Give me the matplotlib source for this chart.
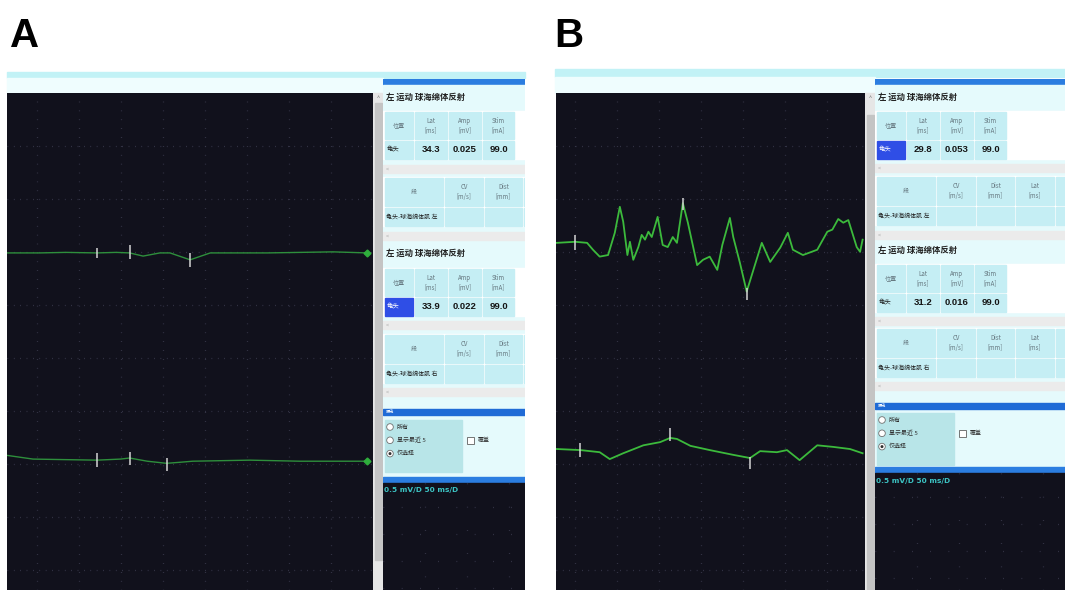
import numpy as np
import matplotlib.pyplot as plt
from matplotlib.patches import Rectangle, Circle

plt.rcParams['font.family'] = ['Noto Sans CJK SC', 'DejaVu Sans']

# ---- values ----
# traces: time in ms, amplitude in uV relative to the channel baseline
a1_t = [0, 39, 70, 107, 130, 146, 162, 182, 194, 218, 242, 310, 388, 429]
a1_v = [0, 0, 1, 0, 1, 0, -6, 0, 0, -13, 0, 0, 2, 0]
a2_t = [0, 31, 107, 135, 146, 167, 190, 206, 221, 289, 349, 429]
a2_v = [11, 4, 2, 4, 6, 0, -4, -2, 0, 2, 0, 0]
b1_t = [1, 23, 37, 44, 52, 62, 70, 76, 80, 85, 88, 92, 98, 102, 106, 110, 114, 121, 127, 133,
        139, 144, 151, 157, 168, 175, 183, 192, 198, 207, 211, 219, 227, 235, 245, 255, 267, 276,
        282, 294, 311, 323, 329, 336, 342, 348, 358, 362, 365]
b1_v = [0, 2, 0, -13, -26, -23, 19, 68, 40, -23, 2, -32, -8, 15, 6, 21, 11, 49, -4, -8,
        11, 0, 75, 38, -42, -32, -26, -51, -4, 47, 11, -38, -92, -51, 0, -36, -9, 19,
        -13, -23, -13, 21, 25, 45, 38, 43, -8, -17, 6]
b2_t = [1, 29, 52, 64, 80, 104, 124, 136, 144, 160, 183, 211, 231, 243, 263, 275, 290, 311, 330, 350, 365]
b2_v = [2, 0, -4, -17, -6, 9, 15, 23, 21, 8, 0, -9, -15, -2, -4, 0, -19, 9, 6, 2, -6]

# cursor marks on each trace: time, low and high end (uV from baseline)
a1_mk_t, a1_mk_lo, a1_mk_hi = [107, 146, 218], [-9, -11, -26], [9, 15, 0]
a2_mk_t, a2_mk_lo, a2_mk_hi = [107, 146, 190], [-11, -8, -19], [15, 17, 6]
b1_mk_t, b1_mk_lo, b1_mk_hi = [23, 151, 227], [-13, 62, -108], [15, 85, -85]
b2_mk_t, b2_mk_lo, b2_mk_hi = [29, 136, 231], [-13, 17, -36], [13, 42, -13]

a_base = [636, 243]
b_base = [655, 264]

# side tables
title = '左 运动 球海绵体反射'
site = '龟头'
segments = ['龟头-球海绵体肌 左', '龟头-球海绵体肌 右']
head1 = ['位置', 'Lat\n[ms]', 'Amp\n[mV]', 'Stim\n[mA]']
head2 = ['段', 'CV\n[m/s]', 'Dist\n[mm]', 'Lat\n[ms]', 'Amp\n[mV]']
a_lat, a_amp, a_stim = ['34.3', '33.9'], ['0.025', '0.022'], ['99.0', '99.0']
b_lat, b_amp, b_stim = ['29.8', '31.2'], ['0.053', '0.016'], ['99.0', '99.0']
a_hl = [False, True]
b_hl = [True, False]
radio_items = ['所有', '显示最近 5', '仅选择']
scale_text = '0.5 mV/D 50 ms/D'

W, H = 1065, 590
MS_PER_PX = 50 / 42
UV_PER_PX = 100 / 53
DARK = '#11111c'
PANEL = '#e5fafc'
CELL = '#c5eef4'
BLUE = '#2b7de0'
GRIDC = '#3c3c50'

fig = plt.figure(figsize=(W / 100, H / 100), dpi=100)
bg = fig.add_axes([0, 0, 1, 1])
bg.set_xlim(0, W)
bg.set_ylim(H, 0)
bg.axis('off')


def px_axes(x, y, w, h):
    return fig.add_axes([x / W, (H - y - h) / H, w / W, h / H])


def signal_axes(x, w, grid_x0):
    ax = px_axes(x, 93, w, H - 93)
    ax.set_facecolor(DARK)
    ax.set_xlim(0, w * MS_PER_PX)
    ax.set_ylim(0, (H - 93) * UV_PER_PX)
    ax.set_xticks(np.arange(grid_x0, w * MS_PER_PX, 50))
    ax.set_yticks(np.arange(38, (H - 93) * UV_PER_PX, 100))
    ax.grid(axis='x', color=GRIDC, lw=0.9, ls=(0, (0.6, 6.5)))
    ax.grid(axis='y', color=GRIDC, lw=0.9, ls=(0, (0.6, 4.5)))
    ax.tick_params(length=0, labelbottom=False, labelleft=False)
    for s in ax.spines.values():
        s.set_visible(False)
    return ax


def draw_trace(ax, t, v, base, mk_t, mk_lo, mk_hi, color, lw, end_mark=False):
    y = base + np.array(v)
    ax.plot(t, y, color=color, lw=lw, solid_joinstyle='round')
    ax.vlines(mk_t, base + np.array(mk_lo), base + np.array(mk_hi), color='#d4d4d4', lw=1.1)
    if end_mark:
        ax.plot(t[-1], y[-1], 'D', ms=3.5, color='#2fae3c')


def side_panel(left, w, blocks, hist_y, radio_y, dark_y, lat, amp, stim, hl, scale_y):
    x0 = left + 2
    ax = px_axes(left, 79, w, H - 79)
    ax.set_xlim(left, left + w)
    ax.set_ylim(H, 79)
    ax.axis('off')
    ax.add_patch(Rectangle((left, 79), w, 6, color=BLUE))
    ax.add_patch(Rectangle((left, 85), w, dark_y - 85, color=PANEL))
    cols1 = [(0, 28), (30, 32), (64, 32), (98, 31)]
    cols2 = [(0, 58), (60, 38), (100, 37), (139, 38), (179, 38)]
    for k, (ty, t1, s1, t2, s2) in enumerate(blocks):
        ax.text(x0 + 1, ty, title, fontsize=6.0, fontweight='bold', color='#202020',
                va='center', clip_on=True)
        # measurement table
        ax.add_patch(Rectangle((left, t1 - 1), w, 48, color='white'))
        vals = [site, lat[k], amp[k], stim[k]]
        for i, (cx, cw) in enumerate(cols1):
            ax.add_patch(Rectangle((x0 + cx, t1), cw, 27, color=CELL))
            blue = (i == 0 and hl[k])
            ax.add_patch(Rectangle((x0 + cx, t1 + 28.5), cw, 18,
                                   color='#2f4ee6' if blue else CELL))
            ax.text(x0 + cx + cw / 2, t1 + 13.5, head1[i], fontsize=4.4, color='#667880',
                    ha='center', va='center', linespacing=1.25, clip_on=True)
            if i == 0:
                ax.text(x0 + cx + 2, t1 + 37.5, vals[i], fontsize=4.6,
                        color='white' if blue else '#202020', va='center', clip_on=True)
            else:
                ax.text(x0 + cx + cw / 2, t1 + 37.5, vals[i], fontsize=6.8, fontweight='bold',
                        family=['Liberation Sans'], color='#151515', ha='center', va='center',
                        clip_on=True)
        for sy in (s1, s2):
            ax.add_patch(Rectangle((left, sy), w, 8, color='#ebebeb'))
            ax.text(x0 + 1, sy + 4, '<', fontsize=3.8, color='#a8a8a8', va='center', clip_on=True)
        # segment table
        ax.add_patch(Rectangle((left, t2 - 1), w, 49, color='white'))
        for i, (cx, cw) in enumerate(cols2):
            ax.add_patch(Rectangle((x0 + cx, t2), cw, 28, color=CELL))
            ax.add_patch(Rectangle((x0 + cx, t2 + 29.5), cw, 18, color=CELL))
            ax.text(x0 + cx + cw / 2, t2 + 14, head2[i], fontsize=4.4, color='#667880',
                    ha='center', va='center', linespacing=1.25, clip_on=True)
        ax.text(x0 + 1, t2 + 38.5, segments[k], fontsize=4.3, color='#202020',
                va='center', clip_on=True)
    # history box
    ax.add_patch(Rectangle((left, hist_y), w, 6, color='#1f6bd6'))
    ax.text(x0 + 1, hist_y + 3, '历史', fontsize=3.0, color='white', va='center', clip_on=True)
    ax.add_patch(Rectangle((x0, radio_y), 77, 52, color='#b8e5e8'))
    for i, item in enumerate(radio_items):
        ry = radio_y + 7 + 13.3 * i
        ax.add_patch(Circle((x0 + 5, ry), 3.3, fc='white', ec='#707070', lw=0.6))
        if i == 2:
            ax.add_patch(Circle((x0 + 5, ry), 1.5, fc='#303030', ec='none'))
        ax.text(x0 + 12, ry, item, fontsize=4.3, color='#303030', va='center', clip_on=True)
    cy = radio_y + 20
    ax.add_patch(Rectangle((x0 + 82, cy - 3.5), 7, 7, fc='white', ec='#606060', lw=0.6))
    ax.text(x0 + 93, cy, '覆盖', fontsize=4.3, color='#303030', va='center', clip_on=True)
    # small scope at the bottom
    ax.add_patch(Rectangle((left, dark_y - 6), w, 6, color=BLUE))
    ax.add_patch(Rectangle((left, dark_y), w, H - dark_y, color=DARK))
    ax.vlines(np.arange(x0 + 40, left + w, 42), dark_y, H, color=GRIDC, lw=0.9,
              linestyles=[(0, (0.6, 18))])
    ax.hlines(np.arange(dark_y + 24, H, 27), left, left + w, color=GRIDC, lw=0.9,
              linestyles=[(0, (0.6, 14))])
    ax.text(x0 - 1, scale_y, scale_text, fontsize=5.3, fontweight='bold',
            family=['DejaVu Sans'], color='#3cc4c4', va='center', clip_on=True)


# ---- window chrome ----
bg.add_patch(Rectangle((7, 72), 518, 6, color='#c2f2f6'))
bg.add_patch(Rectangle((7, 78), 376, 15, color='#effdfe'))
bg.add_patch(Rectangle((555, 69), 510, 8, color='#c2f2f6'))
bg.add_patch(Rectangle((555, 77), 320, 16, color='#effdfe'))
for sx, thumb_top in [(373, 103), (865, 115)]:
    bg.add_patch(Rectangle((sx, 93), 10, H - 93, color='#e6e6e6'))
    bg.add_patch(Rectangle((sx + 1.5, thumb_top), 7, 457 if sx == 373 else H - thumb_top,
                           color='#c4c4c4'))
    bg.text(sx + 5, 99, '^', fontsize=4, color='#707070', ha='center', va='center')

bg.text(10, 47, 'A', fontsize=29, fontweight='bold', family=['Liberation Sans'], color='black')
bg.text(554, 47, 'B', fontsize=29, fontweight='bold', family=['Liberation Sans'], color='black')

# ---- panel A ----
ax_a = signal_axes(7, 366, 35.7)
draw_trace(ax_a, a1_t, a1_v, a_base[0], a1_mk_t, a1_mk_lo, a1_mk_hi, '#2e8f3c', 1.0, True)
draw_trace(ax_a, a2_t, a2_v, a_base[1], a2_mk_t, a2_mk_lo, a2_mk_hi, '#2e8f3c', 1.0, True)
side_panel(383, 142,
           [(97, 112, 165, 178, 232), (253, 269, 321, 335, 388)],
           409, 420, 483, a_lat, a_amp, a_stim, a_hl, 490)

# ---- panel B ----
ax_b = signal_axes(556, 309, 22.6)
draw_trace(ax_b, b1_t, b1_v, b_base[0], b1_mk_t, b1_mk_lo, b1_mk_hi, '#3cba3c', 1.3)
draw_trace(ax_b, b2_t, b2_v, b_base[1], b2_mk_t, b2_mk_lo, b2_mk_hi, '#3cba3c', 1.3)
side_panel(875, 190,
           [(97, 112, 164, 177, 231), (250, 265, 317, 329, 382)],
           403, 413, 473, b_lat, b_amp, b_stim, b_hl, 481)

fig.savefig('out.png', dpi=100, facecolor='white')
